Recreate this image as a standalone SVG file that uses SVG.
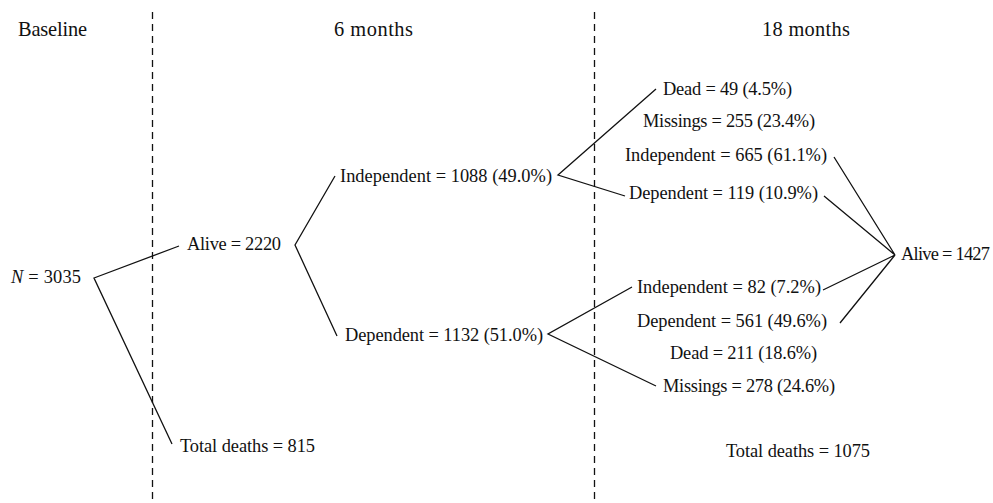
<svg xmlns="http://www.w3.org/2000/svg" width="993" height="503" viewBox="0 0 993 503" font-family="Liberation Serif, Times New Roman, DejaVu Serif, serif">
<style>
text{font-family:'Liberation Serif','Times New Roman',Times,'DejaVu Serif',serif;fill:#111;font-size:18.4px}
.h{font-size:20.4px}
.c{fill:none;stroke:#111;stroke-width:1.3;stroke-linejoin:miter}
.d{fill:none;stroke:#111;stroke-width:1.3;stroke-dasharray:7 5}
</style>
<rect width="993" height="503" fill="#fff"/>
<g id="dividers">
<line class="d" x1="152.5" y1="12" x2="152.5" y2="503"/>
<line class="d" x1="594.5" y1="12" x2="594.5" y2="503"/>
</g>
<g id="headers">
<text class="h" x="18" y="36" textLength="69">Baseline</text>
<text class="h" x="334" y="36" textLength="79">6 months</text>
<text class="h" x="762" y="36" textLength="88">18 months</text>
</g>
<g id="connectors">
<polyline class="c" points="179,246 94,278 172,444"/>
<polyline class="c" points="335,176 295,245 337,336"/>
<polyline class="c" points="656,89 558,175 625,196"/>
<polyline class="c" points="632,287 548,334 656,386"/>
<polyline class="c" points="834,157 895,255 824,196"/>
<polyline class="c" points="823,290 895,255 840,323"/>
</g>
<g id="n-baseline"><text x="11" y="283" textLength="70"><tspan font-style="italic">N</tspan> = 3035</text></g>
<g id="n-alive6"><text x="187" y="250" textLength="94">Alive = 2220</text></g>
<g id="n-deaths6"><text x="180" y="452" textLength="135">Total deaths = 815</text></g>
<g id="n-indep6"><text x="340" y="182" textLength="212">Independent = 1088 (49.0%)</text></g>
<g id="n-dep6"><text x="345" y="341" textLength="198">Dependent = 1132 (51.0%)</text></g>
<g id="n-i-dead"><text x="663" y="95" textLength="129">Dead = 49 (4.5%)</text></g>
<g id="n-i-miss"><text x="643" y="127" textLength="172">Missings = 255 (23.4%)</text></g>
<g id="n-i-indep"><text x="625" y="161" textLength="202">Independent = 665 (61.1%)</text></g>
<g id="n-i-dep"><text x="629" y="199" textLength="189">Dependent = 119 (10.9%)</text></g>
<g id="n-alive18"><text x="901" y="260" textLength="89">Alive = 1427</text></g>
<g id="n-d-indep"><text x="637" y="293" textLength="184">Independent = 82 (7.2%)</text></g>
<g id="n-d-dep"><text x="637" y="327" textLength="190">Dependent = 561 (49.6%)</text></g>
<g id="n-d-dead"><text x="670" y="359" textLength="147">Dead = 211 (18.6%)</text></g>
<g id="n-d-miss"><text x="663" y="392" textLength="172">Missings = 278 (24.6%)</text></g>
<g id="n-deaths18"><text x="726" y="457" textLength="144">Total deaths = 1075</text></g>
</svg>
